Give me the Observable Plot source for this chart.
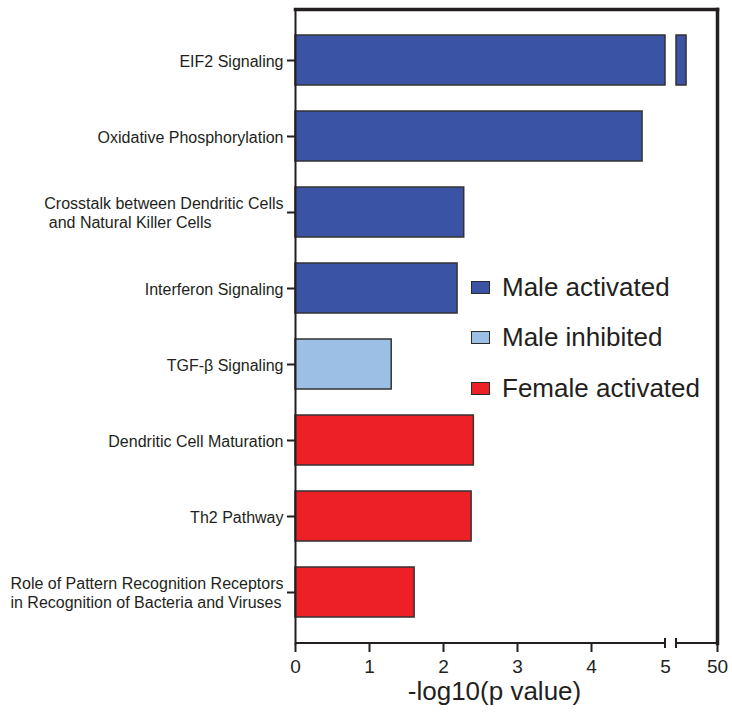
<!DOCTYPE html>
<html>
<head>
<meta charset="utf-8">
<script src="https://cdn.jsdelivr.net/npm/d3@7"></script>
<script src="https://cdn.jsdelivr.net/npm/@observablehq/plot@0.6"></script>
<style>
  body { margin: 0; background: #fff; }
  #chart { position: relative; width: 732px; height: 714px; font-family: "Liberation Sans", Arial, sans-serif; color: #231f20; }
  #legend { position: absolute; left: 471px; top: 262px; }
  .item { display: flex; align-items: center; height: 50.5px; font-size: 26px; }
  .swatch { width: 17px; height: 11px; border: 1.5px solid #2a2a2a; margin-right: 12px; }
</style>
</head>
<body>
<div id="chart"><div id="legend"></div></div>
<script>
// IPA canonical pathways enriched per group
const pathways = [
  "EIF2 Signaling",
  "Oxidative Phosphorylation",
  "Crosstalk between Dendritic Cells\n and Natural Killer Cells",
  "Interferon Signaling",
  "TGF-β Signaling",
  "Dendritic Cell Maturation",
  "Th2 Pathway",
  "Role of Pattern Recognition Receptors\nin Recognition of Bacteria and Viruses"
];
const logP = [19.8, 4.69, 2.28, 2.19, 1.30, 2.41, 2.38, 1.61];
const groups = [
  "Male activated", "Male activated", "Male activated", "Male activated",
  "Male inhibited",
  "Female activated", "Female activated", "Female activated"
];
const groupNames = ["Male activated", "Male inhibited", "Female activated"];
const groupColors = ["#3a53a4", "#9bbfe5", "#ed1f27"];
const xTicks = [0, 1, 2, 3, 4, 5, 50];
// broken x axis: 0–5, gap, 10–50
const breakLo = 5, breakHi = 10, xMax = 50;

const ink = "#231f20";
const data = pathways.map((p, i) => ({pathway: p, value: logP[i], group: groups[i]}));

const W = 732, H = 714;
const mLeft = 295, mRight = 15, mTop = 9, mBottom = 71;
const right = W - mRight;
const gapStart = 665, gapEnd = 676;

// axis line drawn in two pieces with caps at the break
function brokenAxisLine(index, scales, values, dimensions) {
  const {x} = scales;
  const y0 = dimensions.height - dimensions.marginBottom;
  const g = d3.create("svg:g").attr("stroke", ink).attr("stroke-width", 2);
  for (const [a, b] of [[0, breakLo], [breakHi, xMax]]) {
    g.append("line").attr("x1", x(a)).attr("x2", x(b)).attr("y1", y0).attr("y2", y0);
  }
  for (const v of [breakLo, breakHi]) {
    g.append("line").attr("x1", x(v)).attr("x2", x(v)).attr("y1", y0 - 5).attr("y2", y0 + 5);
  }
  return g.node();
}

const chart = Plot.plot({
  width: W,
  height: H,
  marginLeft: mLeft,
  marginRight: mRight,
  marginTop: mTop,
  marginBottom: mBottom,
  style: {fontFamily: "'Liberation Sans', Arial, sans-serif", color: ink, background: "#fff"},
  x: {type: "linear", domain: [0, breakLo, breakHi, xMax], range: [mLeft, gapStart, gapEnd, right]},
  y: {domain: pathways, range: [22, 630], paddingInner: 0.342, paddingOuter: 0.171},
  color: {domain: groupNames, range: groupColors},
  marks: [
    Plot.barX(data, {
      y: "pathway", x1: () => 0, x2: d => Math.min(d.value, breakLo),
      fill: "group", stroke: "#333", strokeWidth: 1.5
    }),
    Plot.barX(data.filter(d => d.value > breakHi), {
      y: "pathway", x1: () => breakHi, x2: "value",
      fill: "group", stroke: "#333", strokeWidth: 1.5
    }),
    Plot.frame({anchor: "top", stroke: ink, strokeWidth: 3.5}),
    Plot.frame({anchor: "right", stroke: ink, strokeWidth: 3.5}),
    Plot.frame({anchor: "left", stroke: ink, strokeWidth: 2}),
    brokenAxisLine,
    Plot.axisY({tickSize: 8, tickPadding: 4, fontSize: 16, lineHeight: 1.2, strokeWidth: 2, stroke: ink, fill: ink, label: null}),
    Plot.axisX(xTicks.filter(t => t !== breakLo), {tickSize: 9, tickPadding: 7, fontSize: 19, strokeWidth: 2, stroke: ink, fill: ink, label: null}),
    Plot.axisX([breakLo], {tickSize: 0, tickPadding: 16, fontSize: 19, fill: ink, label: null}),
    Plot.text(["-log10(p value)"], {frameAnchor: "bottom", dx: -12, dy: 56, fontSize: 26, fill: ink})
  ]
});

document.getElementById("chart").prepend(chart);

// multi-line pathway names: lines left-aligned inside a right-aligned block
d3.select(chart).selectAll('g[aria-label="y-axis tick label"] text').each(function () {
  const spans = this.querySelectorAll("tspan");
  if (spans.length < 2) return;
  this.style.whiteSpace = "pre";
  let w = 0;
  spans.forEach(s => { w = Math.max(w, s.getComputedTextLength()); });
  this.setAttribute("text-anchor", "start");
  spans.forEach(s => s.setAttribute("x", -w));
});

// legend
const legend = d3.select("#legend");
groupNames.forEach((name, i) => {
  const item = legend.append("div").attr("class", "item");
  item.append("div").attr("class", "swatch").style("background", groupColors[i]);
  item.append("span").text(name);
});
</script>
</body>
</html>
